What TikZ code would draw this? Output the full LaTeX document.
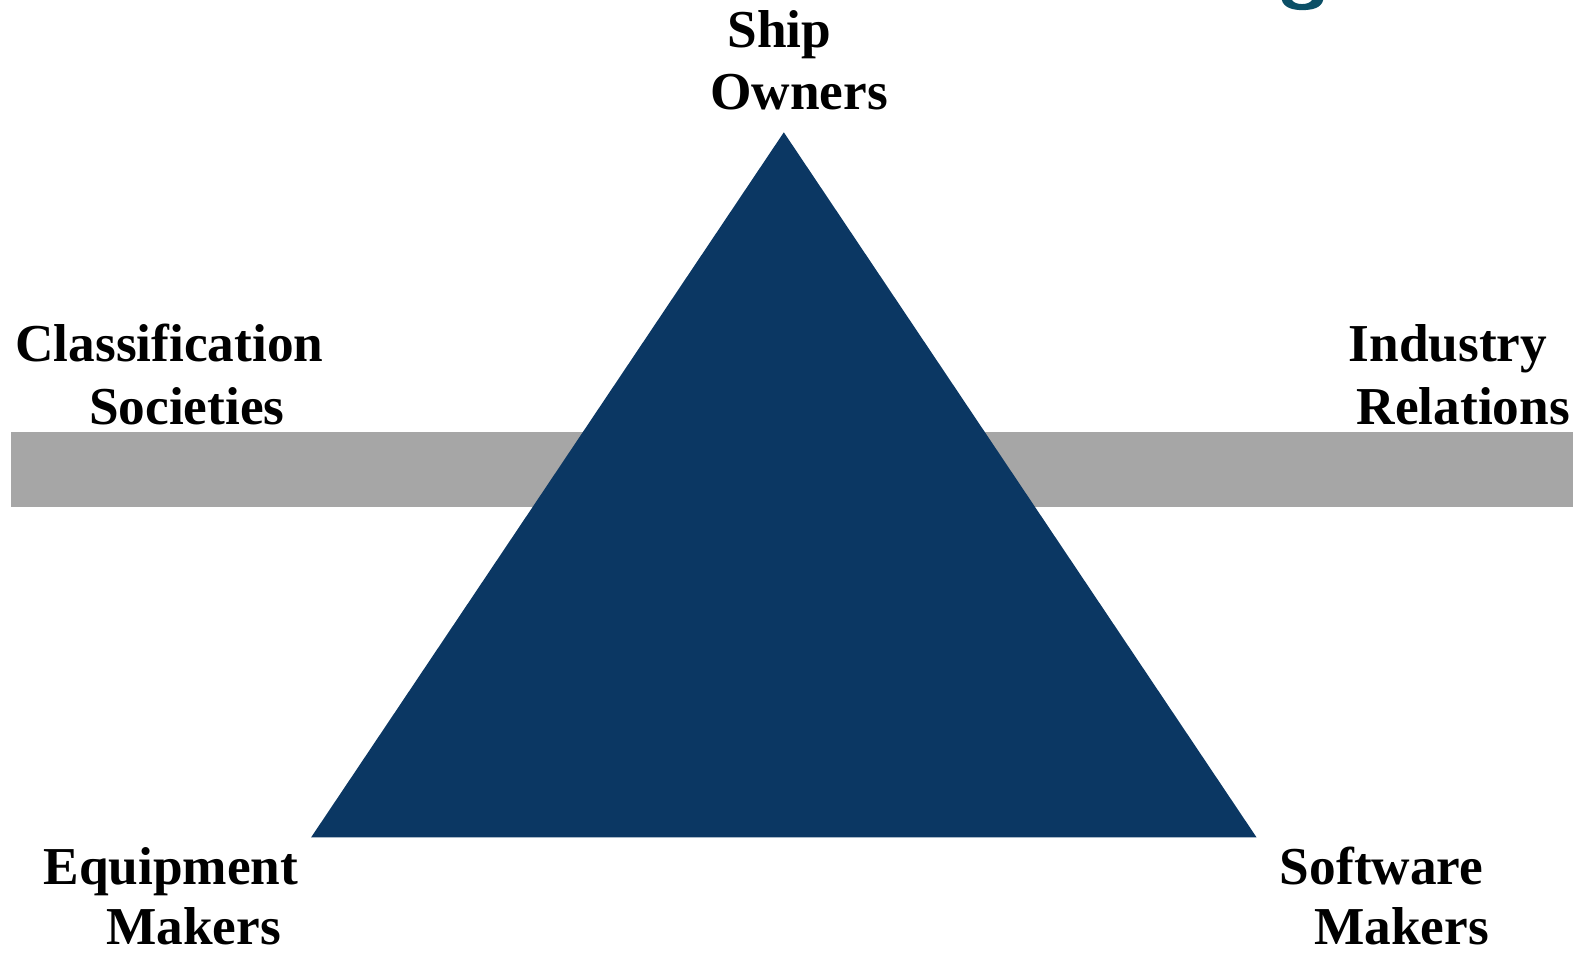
\documentclass[tikz,border=0pt]{standalone}
\usepackage{fontspec}
\setmainfont{Liberation Serif}
\definecolor{navy}{HTML}{0B3763}
\definecolor{bargray}{HTML}{A6A6A6}
\definecolor{gteal}{HTML}{0B4F66}
\tikzset{lbl/.style={anchor=base west, inner sep=0pt, font=\fontsize{53.5}{60}\selectfont\bfseries}}
\begin{document}
\begin{tikzpicture}[x=1.0101bp,y=-1.0101bp]
\useasboundingbox (0,0) rectangle (1567.2,943.5);
% partial glyph at top right
\fill[gteal] (1269,0) .. controls (1271,8) and (1281,10) .. (1289,10) .. controls (1299,10) and (1308,8) .. (1310,0) -- (1299,0) .. controls (1297,3) and (1293,4) .. (1289,4) .. controls (1285,4) and (1281,3) .. (1279,0) -- cycle;
% bar
\fill[bargray] (11,428) rectangle (1557,502);
% triangle
\coordinate (apex) at (776,131);
\coordinate (bl) at (308,829);
\coordinate (br) at (1244,829);
\fill[navy] (apex) -- (bl) -- (br) -- cycle;
% labels
\node[lbl] (ship1) at (720,47) {Ship};
\node[lbl] (ship2) at (703,108) {Owners};
\node[lbl] (cls1) at (15,358) {Classification};
\node[lbl] (cls2) at (88,420) {Societies};
\node[lbl] (ind1) at (1335,358) {Industry};
\node[lbl] (ind2) at (1343,420) {Relations};
\node[lbl] (eq1) at (43,876) {Equipment};
\node[lbl] (eq2) at (105,935) {Makers};
\node[lbl] (sw1) at (1267,876) {Software};
\node[lbl] (sw2) at (1301,935) {Makers};
\end{tikzpicture}
\end{document}
